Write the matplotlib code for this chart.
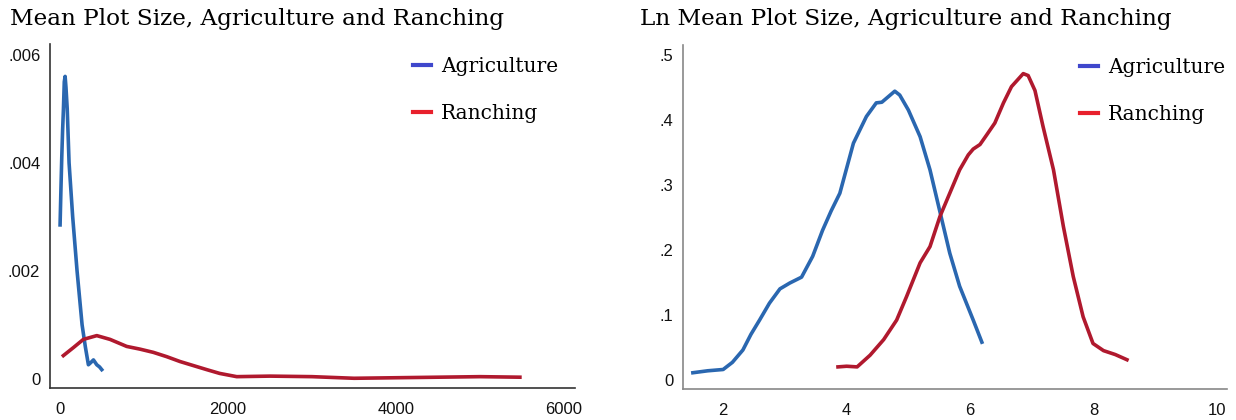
import matplotlib
matplotlib.use('Agg')
import matplotlib.pyplot as plt
from matplotlib.lines import Line2D

# data
# left panel: mean plot size (density)
agr_x = [0, 10, 20, 30, 40, 50, 60, 70, 85, 107, 150, 202, 262, 300, 337, 365, 397, 437, 470, 496]
agr_y = [0.00285, 0.0035, 0.0041, 0.0046, 0.0050, 0.0055, 0.0056, 0.0054, 0.0050, 0.0040, 0.0030,
         0.0020, 0.0010, 0.00060, 0.00026, 0.00030, 0.00035, 0.00026, 0.00022, 0.00017]
ran_x = [39, 160, 277, 437, 595, 793, 950, 1110, 1270, 1428, 1746, 1900, 2103, 2500, 3000, 3500,
         4000, 4500, 5000, 5474]
ran_y = [0.00043, 0.00058, 0.00073, 0.00080, 0.00073, 0.00060, 0.00055, 0.00049, 0.00041, 0.00032,
         0.00017, 0.00010, 0.00004, 0.00005, 0.00004, 0.00001, 0.00002, 0.00003, 0.00004, 0.00003]

# right panel: ln mean plot size
lagr_x = [1.51, 1.75, 2.0, 2.15, 2.32, 2.45, 2.59, 2.75, 2.92, 3.08, 3.27, 3.45, 3.61, 3.75, 3.89,
          4.11, 4.32, 4.48, 4.57, 4.78, 4.86, 5.0, 5.19, 5.35, 5.51, 5.67, 5.83, 6.05, 6.19]
lagr_y = [0.011, 0.014, 0.016, 0.027, 0.046, 0.070, 0.092, 0.118, 0.140, 0.149, 0.158, 0.190, 0.230,
          0.260, 0.287, 0.364, 0.405, 0.426, 0.427, 0.444, 0.438, 0.415, 0.374, 0.323, 0.259, 0.195,
          0.144, 0.092, 0.058]
lran_x = [3.86, 4.0, 4.17, 4.38, 4.6, 4.81, 4.97, 5.19, 5.35, 5.51, 5.67, 5.83, 5.97, 6.05, 6.16,
          6.27, 6.40, 6.54, 6.67, 6.86, 6.94, 7.05, 7.18, 7.35, 7.51, 7.67, 7.83, 7.99, 8.16, 8.35, 8.54]
lran_y = [0.020, 0.021, 0.020, 0.038, 0.062, 0.092, 0.128, 0.180, 0.205, 0.251, 0.287, 0.323, 0.346,
          0.355, 0.362, 0.377, 0.395, 0.426, 0.451, 0.471, 0.468, 0.445, 0.390, 0.323, 0.236, 0.159,
          0.097, 0.056, 0.045, 0.039, 0.031]

left_xticks = [0, 2000, 4000, 6000]
left_yticks = [0, 0.002, 0.004, 0.006]
left_ylabels = ['0', '.002', '.004', '.006']
right_xticks = [2, 4, 6, 8, 10]
right_yticks = [0, 0.1, 0.2, 0.3, 0.4, 0.5]
right_ylabels = ['0', '.1', '.2', '.3', '.4', '.5']

line_blue = '#2a67b0'
line_red = '#b0192e'
leg_blue = '#3f47cc'
leg_red = '#e8202c'

W, H = 1236, 420
fig = plt.figure(figsize=(W / 100, H / 100), dpi=100)

def px_axes(x0, y0, x1, y1):
    return fig.add_axes([x0 / W, 1 - y1 / H, (x1 - x0) / W, (y1 - y0) / H])

def style(ax, spine_col):
    for s in ['top', 'right']:
        ax.spines[s].set_visible(False)
    for s in ['left', 'bottom']:
        ax.spines[s].set_color(spine_col)
        ax.spines[s].set_linewidth(1.2)
    ax.tick_params(length=0, labelsize=12, labelcolor='#111111')
    ax.tick_params(axis='x', pad=10)
    ax.tick_params(axis='y', pad=7)
    for lab in ax.get_xticklabels() + ax.get_yticklabels():
        lab.set_family('Liberation Sans')

def add_legend(ax, xa):
    handles = [Line2D([], [], color=leg_blue, lw=3),
               Line2D([], [], color=leg_red, lw=3)]
    leg = ax.legend(handles, ['Agriculture', 'Ranching'], loc='upper left',
                    bbox_to_anchor=(xa, 1.015), frameon=False, handlelength=0.9,
                    handletextpad=0.5, labelspacing=1.4,
                    prop={'family': 'DejaVu Serif', 'size': 14.5})
    return leg

# left panel
ax1 = px_axes(50, 44, 575, 388)
ax1.plot(agr_x, agr_y, color=line_blue, lw=2.6)
ax1.plot(ran_x, ran_y, color=line_red, lw=2.6)
ax1.set_xlim(-120, 6130)
ax1.set_ylim(-0.00017, 0.0062)
ax1.set_xticks(left_xticks)
ax1.set_yticks(left_yticks)
ax1.set_yticklabels(left_ylabels)
style(ax1, '#333333')
add_legend(ax1, 0.657)

# right panel
ax2 = px_axes(683, 45, 1227, 389)
ax2.plot(lagr_x, lagr_y, color=line_blue, lw=2.6)
ax2.plot(lran_x, lran_y, color=line_red, lw=2.6)
ax2.set_xlim(1.35, 10.16)
ax2.set_ylim(-0.014, 0.515)
ax2.set_xticks(right_xticks)
ax2.set_yticks(right_yticks)
ax2.set_yticklabels(right_ylabels)
style(ax2, '#888888')
add_legend(ax2, 0.696)

fig.text(10 / W, 1 - 8 / H, 'Mean Plot Size, Agriculture and Ranching', ha='left', va='top',
         family='DejaVu Serif', fontsize=16.7)
fig.text(640 / W, 1 - 8 / H, 'Ln Mean Plot Size, Agriculture and Ranching', ha='left', va='top',
         family='DejaVu Serif', fontsize=16.7)

fig.savefig('out.png', dpi=100)
